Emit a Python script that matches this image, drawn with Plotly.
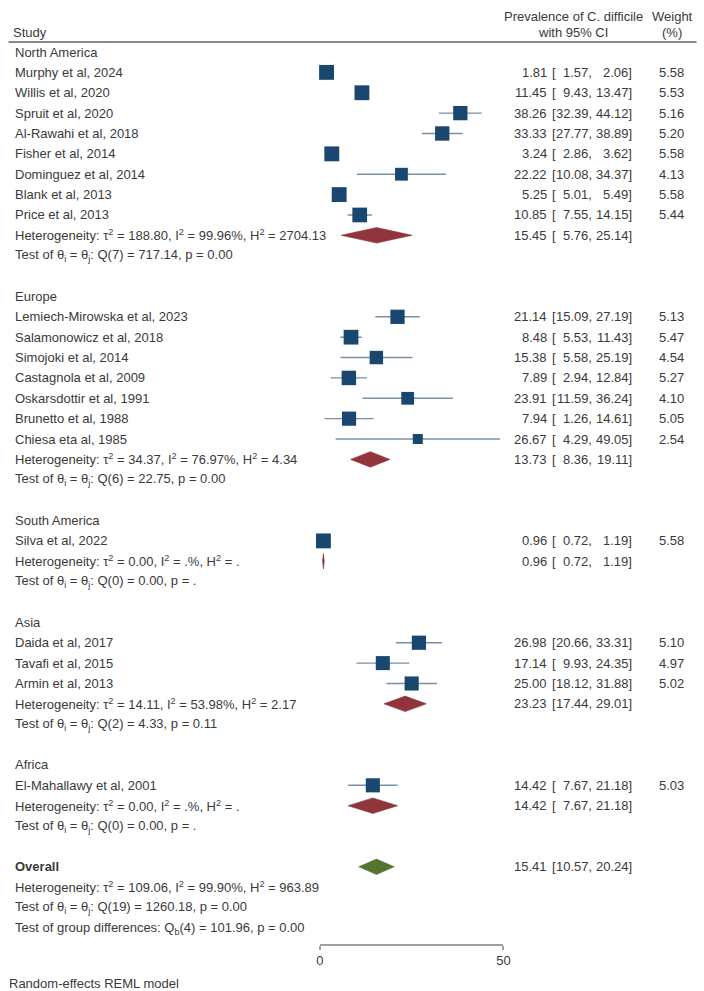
import math
import plotly.graph_objects as go

# ---------------- data ----------------
study_names = [
    "Murphy et al, 2024", "Willis et al, 2020", "Spruit et al, 2020", "Al-Rawahi et al, 2018",
    "Fisher et al, 2014", "Dominguez et al, 2014", "Blank et al, 2013", "Price et al, 2013",
    "Lemiech-Mirowska et al, 2023", "Salamonowicz et al, 2018", "Simojoki et al, 2014",
    "Castagnola et al, 2009", "Oskarsdottir et al, 1991", "Brunetto et al, 1988", "Chiesa eta al, 1985",
    "Silva et al, 2022",
    "Daida et al, 2017", "Tavafi et al, 2015", "Armin et al, 2013",
    "El-Mahallawy et al, 2001",
]
study_group = [0] * 8 + [1] * 7 + [2] + [3] * 3 + [4]
study_es = [1.81, 11.45, 38.26, 33.33, 3.24, 22.22, 5.25, 10.85,
            21.14, 8.48, 15.38, 7.89, 23.91, 7.94, 26.67,
            0.96,
            26.98, 17.14, 25.00,
            14.42]
study_lo = [1.57, 9.43, 32.39, 27.77, 2.86, 10.08, 5.01, 7.55,
            15.09, 5.53, 5.58, 2.94, 11.59, 1.26, 4.29,
            0.72,
            20.66, 9.93, 18.12,
            7.67]
study_hi = [2.06, 13.47, 44.12, 38.89, 3.62, 34.37, 5.49, 14.15,
            27.19, 11.43, 25.19, 12.84, 36.24, 14.61, 49.05,
            1.19,
            33.31, 24.35, 31.88,
            21.18]
study_weight = [5.58, 5.53, 5.16, 5.20, 5.58, 4.13, 5.58, 5.44,
                5.13, 5.47, 4.54, 5.27, 4.10, 5.05, 2.54,
                5.58,
                5.10, 4.97, 5.02,
                5.03]

group_names = ["North America", "Europe", "South America", "Asia", "Africa"]
group_es = [15.45, 13.73, 0.96, 23.23, 14.42]
group_lo = [5.76, 8.36, 0.72, 17.44, 7.67]
group_hi = [25.14, 19.11, 1.19, 29.01, 21.18]
group_tau2 = ["188.80", "34.37", "0.00", "14.11", "0.00"]
group_i2 = ["99.96%", "76.97%", ".%", "53.98%", ".%"]
group_h2 = ["2704.13", "4.34", ".", "2.17", "."]
group_df = [7, 6, 0, 2, 0]
group_q = ["717.14", "22.75", "0.00", "4.33", "0.00"]
group_p = ["0.00", "0.00", ".", "0.11", "."]

overall_es, overall_lo, overall_hi = 15.41, 10.57, 20.24
overall_tau2, overall_i2, overall_h2 = "109.06", "99.90%", "963.89"
overall_df, overall_q, overall_p = 19, "1260.18", "0.00"
between_df, between_q, between_p = 4, "101.96", "0.00"

x_ticks = [0, 50]

# ---------------- styling ----------------
W, H = 704, 991
FONT = "Liberation Sans, Arial, sans-serif"
TXT = "#3a3a3a"
FS = 13
SQ = "#1a476f"
CI = "#7890a8"
SUBD = "#90353b"
OVD = "#55752f"

ROW0_PX, ROW_PX = 52.0, 20.37


def px2row(py):
    return (py - ROW0_PX) / ROW_PX


def xp(px):
    # horizontal pixel position -> paper fraction (compensates observed render offset)
    return ((px - 5.5) / 0.98) / W


# ---------------- row layout ----------------
study_rows = [0] * len(study_names)
group_label_rows, group_sum_rows, group_test_rows = [], [], []
r = 0
for g in range(len(group_names)):
    group_label_rows.append(r)
    r += 1
    for i, sg in enumerate(study_group):
        if sg == g:
            study_rows[i] = r
            r += 1
    group_sum_rows.append(r)
    r += 1
    group_test_rows.append(r)
    r += 1
    r += 1
overall_row = r
overall_het_row = r + 1
overall_test_row = r + 2
between_row = r + 3

fig = go.Figure()

# CI lines
cx, cy = [], []
for lo, hi, rr in zip(study_lo, study_hi, study_rows):
    cx += [lo, hi, None]
    cy += [rr, rr, None]
fig.add_trace(go.Scatter(x=cx, y=cy, mode="lines", line=dict(color=CI, width=1.4),
                         hoverinfo="skip", showlegend=False))

# squares
fig.add_trace(go.Scatter(
    x=study_es, y=study_rows, mode="markers",
    marker=dict(symbol="square", color=SQ, opacity=1,
                size=[6.3 * math.sqrt(w) for w in study_weight],
                line=dict(width=0)),
    cliponaxis=False, showlegend=False, hoverinfo="skip"))

# diamonds
DH = 0.38


def diamond(es, lo, hi, rr):
    return [lo, es, hi, es, lo, None], [rr, rr - DH, rr, rr + DH, rr, None]


dx, dy = [], []
for es, lo, hi, rr in zip(group_es, group_lo, group_hi, group_sum_rows):
    a, b = diamond(es, lo, hi, rr)
    dx += a
    dy += b
fig.add_trace(go.Scatter(x=dx, y=dy, mode="lines", fill="toself", fillcolor=SUBD,
                         line=dict(color=SUBD, width=0.6), showlegend=False, hoverinfo="skip"))
ox, oy = diamond(overall_es, overall_lo, overall_hi, overall_row)
fig.add_trace(go.Scatter(x=ox, y=oy, mode="lines", fill="toself", fillcolor=OVD,
                         line=dict(color=OVD, width=0.6), showlegend=False, hoverinfo="skip"))

# ---------------- text ----------------
ann = []


def txt(x_px, row, text, anchor="left", bold=False, size=FS):
    ann.append(dict(x=xp(x_px), xref="paper", y=row, yref="y", text=f"<b>{text}</b>" if bold else text,
                    showarrow=False, xanchor=anchor, yanchor="middle", borderpad=0,
                    font=dict(family=FONT, size=size, color=TXT)))


LEFT = 15
ES_R, BR_L, LO_R, HI_R, WT_R = 547, 550, 592, 632, 683


def ci_text(row, es, lo, hi, wt=None):
    txt(ES_R, row, f"{es:.2f}", "right")
    txt(BR_L, row, "[", "left")
    txt(LO_R, row, f"{lo:.2f},", "right")
    txt(HI_R, row, f"{hi:.2f}]", "right")
    if wt is not None:
        txt(WT_R, row, f"{wt:.2f}", "right")


def het_text(tau2, i2, h2):
    return (f"Heterogeneity: τ<sup>2</sup> = {tau2}, I<sup>2</sup> = {i2}, "
            f"H<sup>2</sup> = {h2}")


def test_text(df, q, p):
    return f"Test of θ<sub>i</sub> = θ<sub>j</sub>: Q({df}) = {q}, p = {p}"


# header
txt(13, px2row(32), "Study")
txt(572, px2row(16), "Prevalence of C. difficile", "center")
txt(572, px2row(32), "with 95% CI", "center")
txt(671, px2row(16), "Weight", "center")
txt(671, px2row(32), "(%)", "center")

for g, name in enumerate(group_names):
    txt(LEFT, group_label_rows[g], name)
    txt(LEFT, group_sum_rows[g], het_text(group_tau2[g], group_i2[g], group_h2[g]))
    ci_text(group_sum_rows[g], group_es[g], group_lo[g], group_hi[g])
    txt(LEFT, group_test_rows[g], test_text(group_df[g], group_q[g], group_p[g]))

for i, name in enumerate(study_names):
    txt(LEFT, study_rows[i], name)
    ci_text(study_rows[i], study_es[i], study_lo[i], study_hi[i], study_weight[i])

txt(LEFT, overall_row, "Overall", bold=True)
ci_text(overall_row, overall_es, overall_lo, overall_hi)
txt(LEFT, overall_het_row, het_text(overall_tau2, overall_i2, overall_h2))
txt(LEFT, overall_test_row, test_text(overall_df, overall_q, overall_p))
txt(LEFT, between_row + 0.05,
    f"Test of group differences: Q<sub>b</sub>({between_df}) = {between_q}, p = {between_p}")
txt(9, px2row(983), "Random-effects REML model")

shapes = [dict(type="line", xref="paper", yref="y", x0=xp(10), x1=xp(695),
               y0=px2row(42), y1=px2row(42), line=dict(color="#8c8c8c", width=2))]

fig.update_layout(
    width=W, height=H, margin=dict(l=0, r=0, t=0, b=0),
    paper_bgcolor="white", plot_bgcolor="rgba(0,0,0,0)",
    showlegend=False, annotations=ann, shapes=shapes,
    xaxis=dict(domain=[xp(320), xp(502.7)], range=[0, 50], anchor="free",
               position=1 - 945 / H, showline=True, linecolor="#a0a0a0", linewidth=1.5,
               ticks="outside", ticklen=4, tickwidth=1.5, tickcolor="#a0a0a0",
               tickvals=x_ticks, ticktext=[str(t) for t in x_ticks],
               tickfont=dict(family=FONT, size=FS, color=TXT),
               showgrid=False, zeroline=False, fixedrange=True),
    yaxis=dict(domain=[0, 1], range=[px2row(H), px2row(0)], visible=False,
               showgrid=False, zeroline=False, fixedrange=True),
)

fig.write_html("out.html",
               post_script="document.body.style.margin='0px';document.body.style.overflow='hidden';")
